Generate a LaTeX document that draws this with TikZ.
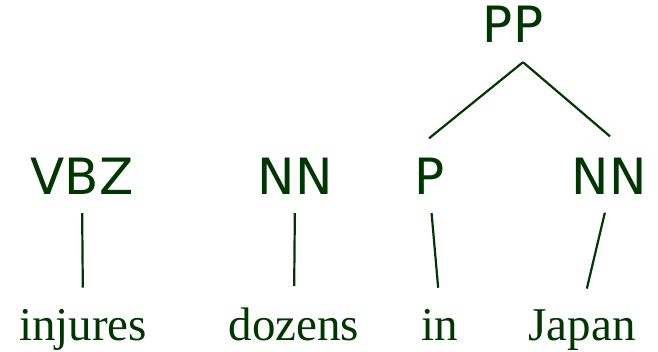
\documentclass[tikz,border=0pt]{standalone}
\usepackage{fontspec}
\setmainfont{Liberation Serif}
\newfontfamily\labelfont{DejaVu Sans}
\definecolor{treegreen}{RGB}{0,55,0}
\begin{document}
\begin{tikzpicture}[x=1pt,y=-1pt,
  cat/.style={inner sep=0pt,anchor=base,text=treegreen,font=\labelfont\fontsize{50}{50}\selectfont},
  word/.style={inner sep=0pt,anchor=base,text=treegreen,font=\fontsize{47}{47}\selectfont},
  edge/.style={draw=treegreen,line width=2.2pt},
  branch/.style={edge,shorten <=18pt,shorten >=21pt}]
\useasboundingbox (0,0) rectangle (658,352);
% category labels
\node[cat] (pp)  at (513,43)  {PP};
\node[cat] (vbz) at (82,195)  {VBZ};
\node[cat] (nna) at (295,195) {NN};
\node[cat] (p)   at (430,195) {P};
\node[cat] (nnb) at (609,195) {NN};
% words
\node[word] (w1) at (83,340)  {injures};
\node[word] (w2) at (294,340) {dozens};
\node[word] (w3) at (440,340) {in};
\node[word] (w4) at (582,340) {Japan};
% the two branches of PP meet in one point below it
\coordinate (ppfoot) at ([shift={(10,19)}]pp.south);
\coordinate (ptop)   at ([shift={(-1,-20)}]p.north);
\coordinate (nntop)  at ([shift={(1,-22)}]nnb.north);
\draw[edge] (ppfoot) -- (ptop);
\draw[edge] (ppfoot) -- (nntop);
% pre-terminal branches
\draw[branch] (vbz.south) -- (w1.north);
\draw[branch] (nna.south) -- (w2.north);
\draw[branch] (p.south) -- (w3.north);
\draw[branch] (nnb.south) -- (w4.north);
\end{tikzpicture}
\end{document}
